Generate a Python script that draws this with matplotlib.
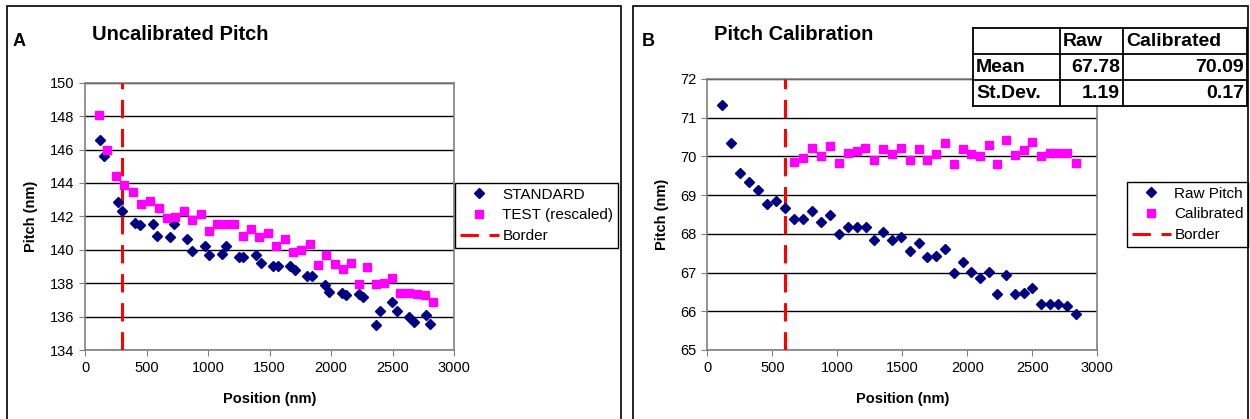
import matplotlib as mpl
mpl.use('Agg')

import matplotlib.pyplot as plt
from matplotlib.patches import Rectangle
from matplotlib.lines import Line2D

plt.rcParams['font.family'] = ['Liberation Sans', 'DejaVu Sans']

# panel A data
test_pos = [111, 182, 249, 320, 390, 458, 528, 599, 667, 734, 805, 873, 940, 1008, 1076, 1146,
            1214, 1282, 1350, 1417, 1488, 1555, 1624, 1691, 1759, 1827, 1894, 1962, 2030, 2095,
            2163, 2228, 2295, 2363, 2431, 2498, 2563, 2632, 2697, 2762, 2829]
test_pitch = [148.04, 145.98, 144.42, 143.90, 143.47, 142.74, 142.91, 142.52, 141.93, 141.96,
              142.35, 141.79, 142.16, 141.14, 141.52, 141.52, 141.54, 140.81, 141.25, 140.79,
              141.01, 140.24, 140.65, 139.88, 139.98, 140.37, 139.08, 139.66, 139.12, 138.82,
              139.18, 137.96, 138.96, 137.94, 138.02, 138.28, 137.42, 137.42, 137.36, 137.32,
              136.90]
std_pos = [119, 154, 266, 301, 409, 445, 550, 585, 691, 726, 832, 867, 976, 1008, 1114, 1149,
           1252, 1287, 1393, 1428, 1531, 1569, 1669, 1707, 1808, 1846, 1954, 1986, 2089, 2125,
           2225, 2260, 2363, 2398, 2498, 2534, 2637, 2672, 2775, 2807]
std_pitch = [146.56, 145.62, 142.83, 142.30, 141.59, 141.48, 141.56, 140.83, 140.75, 141.56,
             140.66, 139.92, 140.22, 139.68, 139.76, 140.24, 139.58, 139.58, 139.71, 139.23,
             139.03, 139.03, 139.00, 138.79, 138.43, 138.42, 137.88, 137.46, 137.40, 137.30,
             137.36, 137.18, 135.50, 136.34, 136.86, 136.34, 135.98, 135.70, 136.12, 135.56]
border_a = 300

# panel B data
raw_pos = [111, 182, 252, 323, 392, 462, 531, 600, 669, 738, 805, 875, 944, 1013, 1082, 1149,
           1218, 1285, 1354, 1421, 1490, 1557, 1626, 1692, 1759, 1828, 1898, 1965, 2031, 2098,
           2165, 2231, 2298, 2367, 2434, 2500, 2567, 2634, 2700, 2767, 2834]
raw_pitch = [71.34, 70.34, 69.58, 69.33, 69.13, 68.77, 68.86, 68.66, 68.38, 68.39, 68.59, 68.31,
             68.49, 67.99, 68.18, 68.18, 68.19, 67.83, 68.04, 67.83, 67.93, 67.55, 67.76, 67.39,
             67.44, 67.61, 66.99, 67.27, 67.01, 66.87, 67.02, 66.45, 66.94, 66.45, 66.48, 66.60,
             66.19, 66.19, 66.18, 66.14, 65.93]
cal_pos = [667, 736, 805, 875, 944, 1011, 1080, 1149, 1215, 1282, 1351, 1421, 1488, 1557, 1626,
           1692, 1759, 1828, 1898, 1965, 2031, 2098, 2165, 2231, 2298, 2367, 2434, 2500, 2567,
           2634, 2700, 2767, 2834]
cal_pitch = [69.85, 69.96, 70.23, 70.02, 70.27, 69.84, 70.08, 70.13, 70.21, 69.92, 70.19, 70.05,
             70.22, 69.91, 70.20, 69.91, 70.06, 70.35, 69.81, 70.20, 70.05, 70.02, 70.30, 69.81,
             70.43, 70.03, 70.16, 70.38, 70.01, 70.08, 70.09, 70.08, 69.83]
border_b = 600

# summary table
table_head = ['', 'Raw', 'Calibrated']
table_rows = ['Mean', 'St.Dev.']
table_raw = ['67.78', '1.19']
table_cal = ['70.09', '0.17']

W, H = 1250, 419
fig = plt.figure(figsize=(W / 100, H / 100), dpi=100)

def fx(px):
    return px / W

def fy(py):
    return 1 - py / H

navy = '#000080'
magenta = '#FF00FF'

# panel frames
for x0, x1 in [(7, 621), (633, 1248)]:
    fig.patches.append(Rectangle((fx(x0), fy(430)), fx(x1 - x0), (430 - 6) / H,
                                 transform=fig.transFigure, fill=False, ec='black', lw=1.2))

def style_axes(ax, yticks):
    ax.set_xlim(0, 3000)
    ax.set_xticks(range(0, 3001, 500))
    ax.set_yticks(yticks)
    ax.set_ylim(yticks[0], yticks[-1])
    ax.grid(axis='y', color='black', lw=1)
    ax.set_axisbelow(True)
    for s in ax.spines.values():
        s.set_color('#808080')
        s.set_linewidth(1.2)
    ax.tick_params(direction='out', length=4, color='#808080', labelsize=10.5, pad=4)
    ax.set_xlabel('Position (nm)', fontweight='bold', fontsize=10.5, labelpad=12)
    ax.set_ylabel('Pitch (nm)', fontweight='bold', fontsize=10.5, labelpad=8)

border_kw = dict(color='red', lw=2.2, dashes=(6, 3.5), zorder=3)

# panel A
axA = fig.add_axes([fx(85), fy(350), fx(454 - 85), (350 - 82.7) / H])
axA.plot(std_pos, std_pitch, 'D', color=navy, ms=5, ls='none', label='STANDARD', zorder=4)
axA.plot(test_pos, test_pitch, 's', color=magenta, ms=6, ls='none', label='TEST (rescaled)', zorder=4)
axA.axvline(border_a, label='Border', **border_kw)
style_axes(axA, list(range(134, 151, 2)))
fig.text(fx(13), fy(41), 'A', fontsize=13, fontweight='bold', va='center')
fig.text(fx(92), fy(34), 'Uncalibrated Pitch', fontsize=14.5, fontweight='bold', va='center')
axA.legend(loc='upper left', bbox_to_anchor=(fx(455), fy(183)), bbox_transform=fig.transFigure,
           fontsize=11, frameon=True, fancybox=False, edgecolor='black', framealpha=1,
           handlelength=2.6, handletextpad=0.2, labelspacing=0.45, borderpad=0.3,
           borderaxespad=0)

# panel B
axB = fig.add_axes([fx(707.3), fy(350), fx(1097.3 - 707.3), (350 - 79) / H])
axB.plot(raw_pos, raw_pitch, 'D', color=navy, ms=5, ls='none', label='Raw Pitch', zorder=4)
axB.plot(cal_pos, cal_pitch, 's', color=magenta, ms=6, ls='none', label='Calibrated', zorder=4)
axB.axvline(border_b, label='Border', **border_kw)
style_axes(axB, list(range(65, 73)))
fig.text(fx(642), fy(41), 'B', fontsize=13, fontweight='bold', va='center')
fig.text(fx(714), fy(34), 'Pitch Calibration', fontsize=14.5, fontweight='bold', va='center')
axB.legend(loc='upper left', bbox_to_anchor=(fx(1127), fy(182)), bbox_transform=fig.transFigure,
           fontsize=11, frameon=True, fancybox=False, edgecolor='black', framealpha=1,
           handlelength=2.6, handletextpad=0.2, labelspacing=0.45, borderpad=0.3,
           borderaxespad=0)

# table drawn in pixel coordinates
col_x = [973, 1060, 1123, 1247]
row_y = [28, 54, 80, 106]
axT = fig.add_axes([0, 0, 1, 1], facecolor='none')
axT.set_xlim(0, W)
axT.set_ylim(H, 0)
axT.axis('off')
axT.add_patch(Rectangle((col_x[0], row_y[0]), col_x[-1] - col_x[0], row_y[-1] - row_y[0],
                        fc='white', ec='none', zorder=1))
for x in col_x:
    axT.add_line(Line2D([x, x], [row_y[0], row_y[-1]], color='black', lw=1.3, zorder=2))
for y in row_y:
    axT.add_line(Line2D([col_x[0], col_x[-1]], [y, y], color='black', lw=1.3, zorder=2))
tkw = dict(fontsize=14, fontweight='bold', va='center', zorder=3)
for j, lab in enumerate(table_head):
    if lab:
        axT.text(col_x[j] + 3, (row_y[0] + row_y[1]) / 2, lab, ha='left', **tkw)
for i, lab in enumerate(table_rows):
    yc = (row_y[i + 1] + row_y[i + 2]) / 2
    axT.text(col_x[0] + 3, yc, lab, ha='left', **tkw)
    axT.text(col_x[2] - 3, yc, table_raw[i], ha='right', **tkw)
    axT.text(col_x[3] - 3, yc, table_cal[i], ha='right', **tkw)

fig.savefig('out.png', dpi=100)
